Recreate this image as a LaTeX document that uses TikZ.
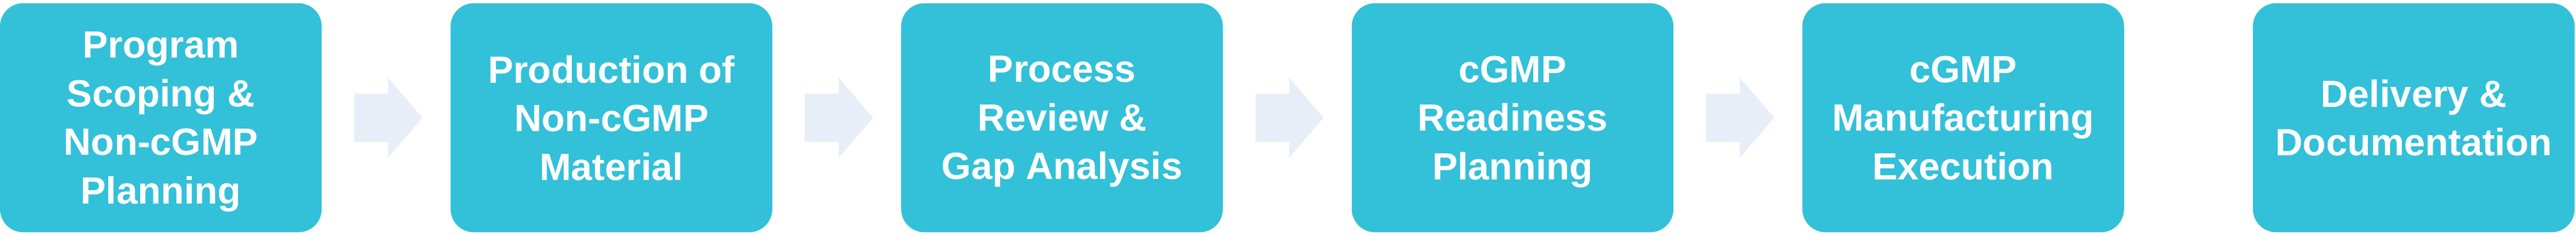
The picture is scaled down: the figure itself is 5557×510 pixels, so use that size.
\documentclass[tikz,border=0pt]{standalone}
\usepackage{fontspec}
\setmainfont{Liberation Sans}
\usepackage{tikz}

\definecolor{stagecyan}{HTML}{33C0D9}
\definecolor{arrowpale}{HTML}{E7EEF8}

\begin{document}
\begin{tikzpicture}[x=1pt, y=1pt,
    stage/.style={shape=rectangle, fill=stagecyan, rounded corners=50pt,
        minimum width=694pt, minimum height=495pt, inner sep=0pt,
        align=center, text=white, font=\fontsize{82}{105}\selectfont\bfseries},
    flow/.style={fill=arrowpale}]
        \useasboundingbox (0, 0) rectangle (5557, 510);

        \node[stage] (S1) at (347, 255.5) {Program\\Scoping \&\\Non-cGMP\\\smash{Planning}};
        \node[stage] (S2) at (1319, 255.5) {Production of\\Non-cGMP\\\smash{Material}};
        \node[stage] (S3) at (2291, 255.5) {Process\\Review \&\\\smash{Gap Analysis}};
        \node[stage] (S4) at (3263, 255.5) {cGMP\\Readiness\\\smash{Planning}};
        \node[stage] (S5) at (4235, 255.5) {cGMP\\Manufacturing\\\smash{Execution}};
        \node[stage] (S6) at (5207, 255.5) {Delivery \&\\\smash{Documentation}};

        \foreach \i in {1,...,4} {
            \fill[flow, shift={(S\i.east)}] (70, -52) -- (143, -52) -- (143, -86.5)
                -- (217, 0) -- (143, 86.5) -- (143, 52) -- (70, 52) -- cycle;
        }
    \end{tikzpicture}
\end{document}
